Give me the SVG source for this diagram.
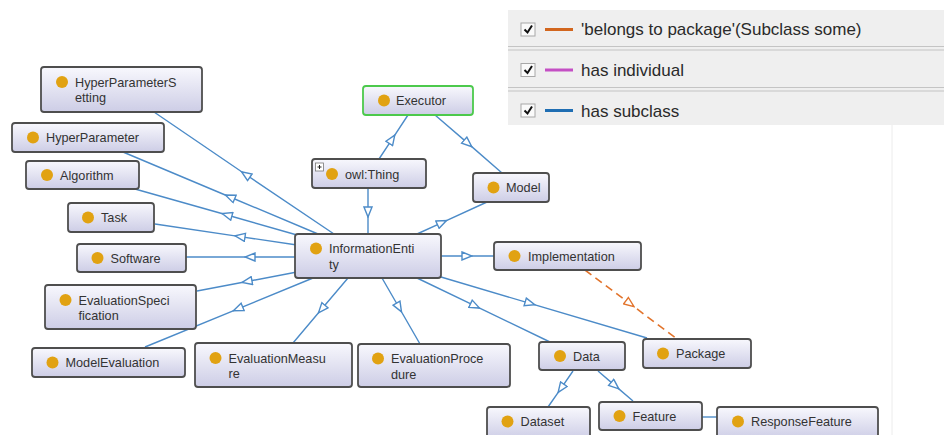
<svg xmlns="http://www.w3.org/2000/svg" width="944" height="435" viewBox="0 0 944 435">
<defs>
<linearGradient id="nodeFill" x1="0" y1="0" x2="0" y2="1">
<stop offset="0" stop-color="#f8f8fd"/>
<stop offset="1" stop-color="#cdcde6"/>
</linearGradient>
<marker id="tri" markerUnits="userSpaceOnUse" markerWidth="12" markerHeight="10" viewBox="-1 -1 12 10" refX="5" refY="4" orient="auto">
<path d="M0,0 L10,4 L0,8 Z" fill="#ffffff" stroke="#4c8bc8" stroke-width="1.4" stroke-linejoin="miter"/>
</marker>
<marker id="triO" markerUnits="userSpaceOnUse" markerWidth="12" markerHeight="10" viewBox="-1 -1 12 10" refX="5" refY="4" orient="auto">
<path d="M0,0 L10,4 L0,8 Z" fill="#ffffff" stroke="#e2742c" stroke-width="1.4"/>
</marker>
<style>
.box{fill:url(#nodeFill);stroke:#4e4e4e;stroke-width:1.8}
.exec{stroke:#4cc94c}
.dot{fill:#e1a212}
.lbl{font-family:"Liberation Sans",Arial,sans-serif;font-size:12.7px;fill:#333333}
.edge{fill:none;stroke:#4c8bc8;stroke-width:1.4;marker-mid:url(#tri)}
.plain{fill:none;stroke:#4c8bc8;stroke-width:1.4}
.dash{fill:none;stroke:#e2742c;stroke-width:1.6;stroke-dasharray:8 5;marker-mid:url(#triO)}
.leg{font-family:"Liberation Sans",Arial,sans-serif;font-size:17px;fill:#2a2a2a}
.cb{fill:#fafafa;stroke:#a8a8a8;stroke-width:1}
.chk{fill:none;stroke:#111111;stroke-width:2}
.sep{stroke:#c4c4c4;stroke-width:1.2}
</style>
</defs>
<rect x="0" y="0" width="944" height="435" fill="#ffffff"/>

<g id="legend">
<rect x="508" y="10" width="436" height="115" fill="#efefef"/>
<line class="sep" x1="508" y1="46.5" x2="944" y2="46.5"/>
<line class="sep" x1="508" y1="50" x2="944" y2="50"/>
<line class="sep" x1="508" y1="87.5" x2="944" y2="87.5"/>
<line class="sep" x1="508" y1="91" x2="944" y2="91"/>
<rect class="cb" x="521" y="23" width="14" height="13"/>
<path class="chk" d="M524.5,29.5 L527.5,32.5 L532,25.5"/>
<line x1="545" y1="29.5" x2="573" y2="29.5" stroke="#d2661e" stroke-width="3"/>
<text class="leg" x="581" y="35">'belongs to package'(Subclass some)</text>
<rect class="cb" x="521" y="63.5" width="14" height="13"/>
<path class="chk" d="M524.5,70 L527.5,73 L532,66"/>
<line x1="545" y1="70" x2="573" y2="70" stroke="#c44fc4" stroke-width="3"/>
<text class="leg" x="581" y="76">has individual</text>
<rect class="cb" x="521" y="104" width="14" height="13"/>
<path class="chk" d="M524.5,110.5 L527.5,113.5 L532,106.5"/>
<line x1="545" y1="110.5" x2="573" y2="110.5" stroke="#1f6eb3" stroke-width="3"/>
<text class="leg" x="581" y="116.5">has subclass</text>
<line x1="892" y1="125" x2="892" y2="435" stroke="#ececec" stroke-width="1"/>
</g>

<g id="connectors">
<path class="edge" d="M334,234 L245.7,174.5 L154,112"/>
<path class="edge" d="M318,234 L230,197 L123,152"/>
<path class="edge" d="M297,235 L227,215 L135,189"/>
<path class="edge" d="M297,245 L240,236.6 L155,224"/>
<path class="edge" d="M297,257 L250,257 L186,257"/>
<path class="edge" d="M297,272 L247,281.5 L197,291"/>
<path class="edge" d="M313,278 L238,308.8 L145,347"/>
<path class="edge" d="M348,278 L321.7,309 L293,343"/>
<path class="edge" d="M382,278 L399,307.5 L420,344"/>
<path class="edge" d="M417,278 L475,305.9 L550,342"/>
<path class="edge" d="M441,277 L530,303.4 L647,338"/>
<path class="edge" d="M441,256 L467,256 L494,256"/>
<path class="edge" d="M368,188 L368,212 L368,234"/>
<path class="edge" d="M379,159 L392,139.3 L408,115"/>
<path class="edge" d="M435,115 L468,143.4 L502,173"/>
<path class="edge" d="M417,234 L442,222.6 L487,202"/>
<path class="edge" d="M573,371 L561,388.3 L548,407"/>
<path class="edge" d="M598,371 L615,385.6 L633,401"/>
<path class="plain" d="M702,417 L717,417"/>
<path class="dash" d="M585,270 L630,303.7 L677,339"/>
</g>

<g id="n-hyperparametersetting">
<rect class="box" x="41" y="67" width="161" height="45" rx="3"/>
<circle class="dot" cx="62" cy="82" r="6"/>
<text class="lbl" x="75" y="86.5">HyperParameterS</text>
<text class="lbl" x="75" y="102">etting</text>
</g>
<g id="n-hyperparameter">
<rect class="box" x="12" y="123" width="152" height="29" rx="3"/>
<circle class="dot" cx="33" cy="137.5" r="6"/>
<text class="lbl" x="46" y="142">HyperParameter</text>
</g>
<g id="n-algorithm">
<rect class="box" x="26" y="161" width="113" height="28" rx="3"/>
<circle class="dot" cx="47" cy="175" r="6"/>
<text class="lbl" x="60" y="179.5">Algorithm</text>
</g>
<g id="n-task">
<rect class="box" x="68" y="203" width="86" height="29" rx="3"/>
<circle class="dot" cx="88" cy="217.5" r="6"/>
<text class="lbl" x="101" y="222">Task</text>
</g>
<g id="n-software">
<rect class="box" x="77" y="244" width="109" height="28" rx="3"/>
<circle class="dot" cx="97.5" cy="258" r="6"/>
<text class="lbl" x="110.5" y="262.5">Software</text>
</g>
<g id="n-evaluationspecification">
<rect class="box" x="45" y="285" width="151" height="44" rx="3"/>
<circle class="dot" cx="65.5" cy="300" r="6"/>
<text class="lbl" x="78.5" y="304.5">EvaluationSpeci</text>
<text class="lbl" x="78.5" y="320">fication</text>
</g>
<g id="n-modelevaluation">
<rect class="box" x="32" y="348" width="153" height="29" rx="3"/>
<circle class="dot" cx="52.5" cy="362.5" r="6"/>
<text class="lbl" x="65.5" y="367">ModelEvaluation</text>
</g>
<g id="n-evaluationmeasure">
<rect class="box" x="195" y="343" width="157" height="44" rx="3"/>
<circle class="dot" cx="215.5" cy="358" r="6"/>
<text class="lbl" x="228.5" y="362.5">EvaluationMeasu</text>
<text class="lbl" x="228.5" y="378">re</text>
</g>
<g id="n-evaluationprocedure">
<rect class="box" x="358" y="344" width="152" height="43" rx="3"/>
<circle class="dot" cx="378" cy="358.5" r="6"/>
<text class="lbl" x="391" y="363">EvaluationProce</text>
<text class="lbl" x="391" y="378.5">dure</text>
</g>
<g id="n-informationentity">
<rect class="box" x="295" y="234" width="146" height="44" rx="3"/>
<circle class="dot" cx="316" cy="248.5" r="6"/>
<text class="lbl" x="329" y="253">InformationEnti</text>
<text class="lbl" x="329" y="269">ty</text>
</g>
<g id="n-implementation">
<rect class="box" x="494" y="242" width="147" height="28" rx="3"/>
<circle class="dot" cx="514.5" cy="256" r="6"/>
<text class="lbl" x="528" y="260.5">Implementation</text>
</g>
<g id="n-data">
<rect class="box" x="539" y="342" width="86" height="28" rx="3"/>
<circle class="dot" cx="560" cy="356" r="6"/>
<text class="lbl" x="573" y="360.5">Data</text>
</g>
<g id="n-package">
<rect class="box" x="643" y="339" width="108" height="29" rx="3"/>
<circle class="dot" cx="663" cy="353.5" r="6"/>
<text class="lbl" x="676" y="358">Package</text>
</g>
<g id="n-executor">
<rect class="box exec" x="363" y="86" width="110" height="29" rx="3"/>
<circle class="dot" cx="384" cy="100.5" r="6"/>
<text class="lbl" x="396" y="105">Executor</text>
</g>
<g id="n-owlthing">
<rect class="box" x="312" y="159" width="114" height="29" rx="3"/>
<rect x="315.5" y="163" width="8" height="8" fill="#ffffff" stroke="#777777" stroke-width="0.8"/>
<path d="M317.5,167 L321.5,167 M319.5,165 L319.5,169" stroke="#222222" stroke-width="1"/>
<circle class="dot" cx="332" cy="174" r="6"/>
<text class="lbl" x="345" y="178.5">owl:Thing</text>
</g>
<g id="n-model">
<rect class="box" x="473" y="173" width="76" height="29" rx="3"/>
<circle class="dot" cx="493.5" cy="187.5" r="6"/>
<text class="lbl" x="506" y="192">Model</text>
</g>
<g id="n-dataset">
<rect class="box" x="487" y="407" width="103" height="32" rx="3"/>
<circle class="dot" cx="507.5" cy="421.5" r="6"/>
<text class="lbl" x="520.5" y="426">Dataset</text>
</g>
<g id="n-feature">
<rect class="box" x="599" y="402" width="103" height="28" rx="3"/>
<circle class="dot" cx="619.5" cy="416" r="6"/>
<text class="lbl" x="632.5" y="420.5">Feature</text>
</g>
<g id="n-responsefeature">
<rect class="box" x="717" y="407" width="161" height="32" rx="3"/>
<circle class="dot" cx="738" cy="421.5" r="6"/>
<text class="lbl" x="751" y="426">ResponseFeature</text>
</g>
</svg>
